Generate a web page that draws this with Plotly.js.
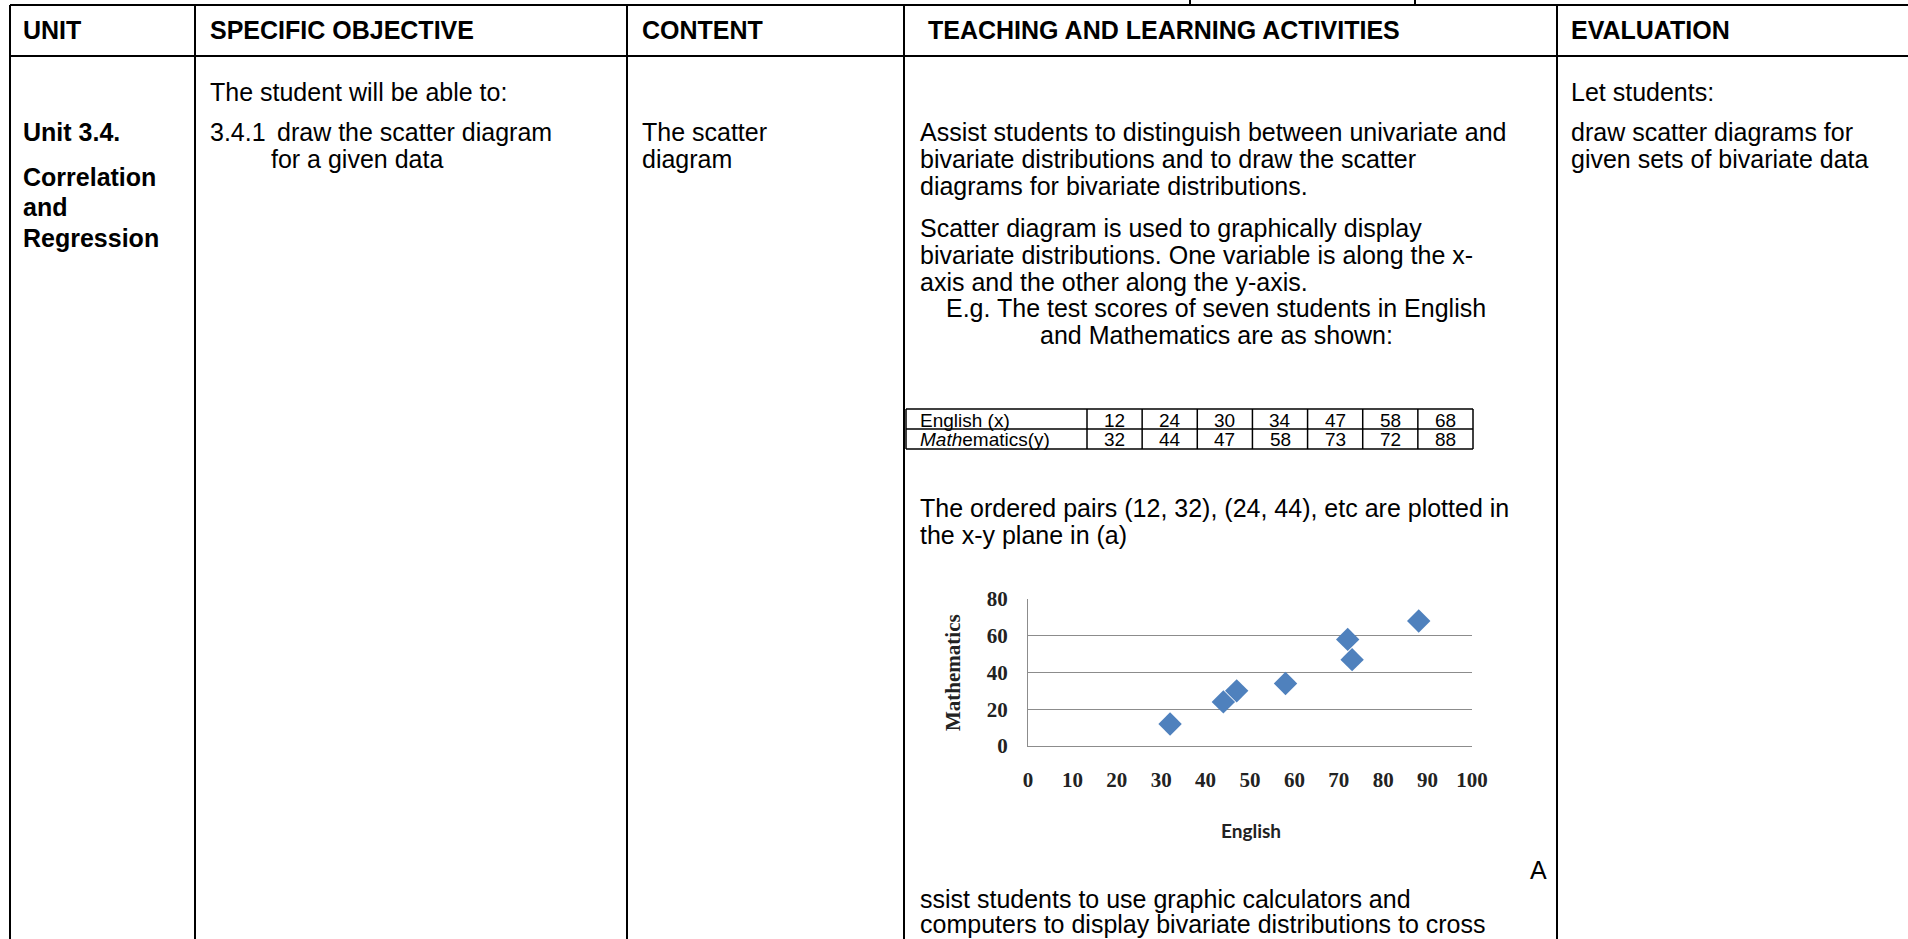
<!DOCTYPE html>
<html><head><meta charset="utf-8">
<script src="https://cdn.plot.ly/plotly-3.0.1.min.js"></script>
<style>html,body{margin:0;padding:0;background:#fff;overflow:hidden}#chart{width:1908px;height:939px}</style>
</head><body><div id="chart"></div>
<script>
// ---- data ----
const english = [12, 24, 30, 34, 47, 58, 68];
const mathematics = [32, 44, 47, 58, 73, 72, 88];
const tableRowLabels = ["English (x)", "<i>Math</i>ematics(y)"];
const headers = ["UNIT", "SPECIFIC OBJECTIVE", "CONTENT", "TEACHING AND LEARNING ACTIVITIES", "EVALUATION"];
const xTickVals = [0, 10, 20, 30, 40, 50, 60, 70, 80, 90, 100];
const yTickVals = [0, 20, 40, 60, 80];

// ---- page geometry (pixels) ----
const W = 1908, H = 939;
const X = p => p / W;
const Y = p => 1 - p / H;
const colX = [10, 195, 627, 904, 1557];
const headerX = [22, 209, 641, 927, 1570];
const topY = 5, headY = 30, headLineY = 56;

const shapes = [];
const annotations = [];
function hline(x0, x1, y, w) { shapes.push({type: 'line', xref: 'paper', yref: 'paper', x0: X(x0), x1: X(x1), y0: Y(y), y1: Y(y), line: {color: '#000', width: w || 2}}); }
function vline(x, y0, y1, w) { shapes.push({type: 'line', xref: 'paper', yref: 'paper', x0: X(x), x1: X(x), y0: Y(y0), y1: Y(y1), line: {color: '#000', width: w || 2}}); }
const SANS = 'Liberation Sans, Arial, sans-serif';
function txt(x, y, s, o) {
  o = o || {};
  annotations.push({xref: 'paper', yref: 'paper', x: X(x), y: Y(y), text: s, showarrow: false,
    xanchor: o.anchor || 'left', yanchor: 'middle', borderpad: 0,
    font: {family: SANS, size: o.size || 25, color: '#000', weight: o.bold ? 700 : 400}});
}

// outer table lines
hline(colX[0], W, topY);
hline(colX[0], W, headLineY);
colX.forEach(x => vline(x, topY, H));
vline(1190, 0, topY); vline(1415, 0, topY);

// header texts
headers.forEach((h, i) => txt(headerX[i], headY, h, {bold: true}));

// unit column
txt(22, 132, 'Unit 3.4.', {bold: true});
txt(22, 177, 'Correlation', {bold: true});
txt(22, 207, 'and', {bold: true});
txt(22, 238, 'Regression', {bold: true});

// objective column
txt(209, 92, 'The student will be able to:');
txt(209, 132, '3.4.1');
txt(276, 132, 'draw the scatter diagram');
txt(270, 159, 'for a given data');

// content column
txt(641, 132, 'The scatter');
txt(641, 159, 'diagram');

// activities column
const actLines = [
  [132, 'Assist students to distinguish between univariate and'],
  [159, 'bivariate distributions and to draw the scatter'],
  [186, 'diagrams for bivariate distributions.'],
  [228, 'Scatter diagram is used to graphically display'],
  [255, 'bivariate distributions. One variable is along the x-'],
  [282, 'axis and the other along the y-axis.']
];
actLines.forEach(l => txt(919, l[0], l[1]));
txt(1216, 308, 'E.g. The test scores of seven students in English', {anchor: 'center'});
txt(1216, 335, 'and Mathematics are as shown:', {anchor: 'center'});
txt(919, 508, 'The ordered pairs (12, 32), (24, 44), etc are plotted in');
txt(919, 535, 'the x-y plane in (a)');
txt(1548, 870, 'A', {anchor: 'right'});
txt(919, 899, 'ssist students to use graphic calculators and');
txt(919, 924, 'computers to display bivariate distributions to cross');

// evaluation column
txt(1570, 92, 'Let students:');
txt(1570, 132, 'draw scatter diagrams for');
txt(1570, 159, 'given sets of bivariate data');

// small data table built from arrays
const tL = 906, tLab = 1087, tR = 1473, tT = 409, tM = 429, tB = 449;
const cw = (tR - tLab) / english.length;
hline(tL, tR, tT, 1.5); hline(tL, tR, tM, 1.5); hline(tL, tR, tB, 1.5);
vline(tL, tT, tB, 1.5); vline(tLab, tT, tB, 1.5);
english.forEach((v, i) => vline(tLab + cw * (i + 1), tT, tB, 1.5));
const rows = [english, mathematics];
rows.forEach((row, r) => {
  const cy = r === 0 ? (tT + tM) / 2 + 1 : (tM + tB) / 2 + 1;
  txt(919, cy, tableRowLabels[r], {size: 19});
  row.forEach((v, i) => txt(tLab + cw * (i + 0.5), cy, String(v), {size: 19, anchor: 'center'}));
});

// ---- scatter chart ----
const plotL = 1028, plotR = 1472, plotTop = 599, plotBot = 746;
const GRID = '#8c8c8c';
const trace = {
  type: 'scatter', mode: 'markers', x: mathematics, y: english,
  marker: {symbol: 'diamond', size: 18, color: '#4F81BD', line: {width: 0}},
  hoverinfo: 'skip', showlegend: false
};
annotations.push({xref: 'paper', yref: 'paper', x: X(1251), y: Y(830), text: 'English', showarrow: false,
  xanchor: 'center', yanchor: 'middle', font: {family: 'Lato, sans-serif', size: 19, color: '#222', weight: 700}});
annotations.push({xref: 'paper', yref: 'paper', x: X(953), y: Y(673), text: 'Mathematics', showarrow: false, textangle: -90,
  xanchor: 'center', yanchor: 'middle', font: {family: 'Liberation Serif, serif', size: 21, color: '#222', weight: 700}});

const TICKFONT = {family: 'Liberation Serif, serif', size: 21, color: '#222', weight: 700};
const layout = {
  width: W, height: H, margin: {l: 0, r: 0, t: 0, b: 0},
  paper_bgcolor: '#fff', plot_bgcolor: 'rgba(0,0,0,0)',
  showlegend: false,
  xaxis: {domain: [X(plotL), X(plotR)], range: [0, 100], tickvals: xTickVals, ticktext: xTickVals.map(String),
    showgrid: false, zeroline: false, showline: true, linecolor: GRID, linewidth: 1, ticks: '',
    ticklabelstandoff: 15, fixedrange: true, tickfont: TICKFONT},
  yaxis: {domain: [Y(plotBot), Y(plotTop)], range: [0, 80], tickvals: yTickVals, ticktext: yTickVals.map(String),
    showgrid: true, gridcolor: GRID, gridwidth: 1, zeroline: false, showline: true, linecolor: GRID, linewidth: 1,
    ticks: '', ticklabelstandoff: 15, fixedrange: true, tickfont: TICKFONT},
  shapes: shapes,
  annotations: annotations
};
Plotly.newPlot('chart', [trace], layout, {displayModeBar: false, staticPlot: true});
</script>
</body></html>
